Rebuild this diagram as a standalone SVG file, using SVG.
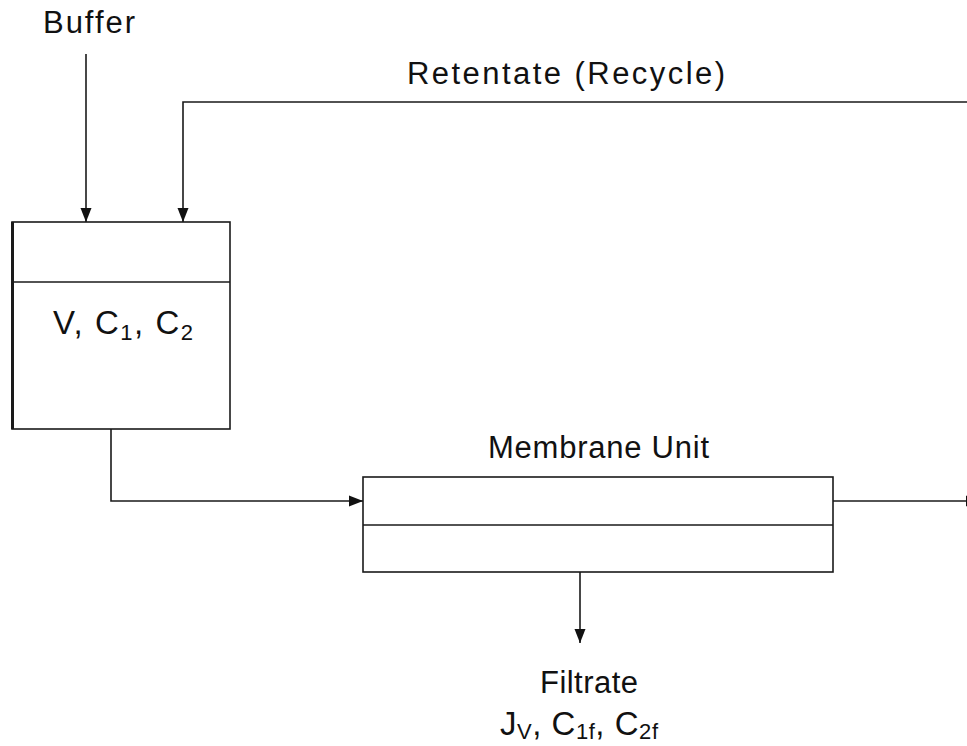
<svg xmlns="http://www.w3.org/2000/svg" width="967" height="746" viewBox="0 0 967 746">
  <style>
    .box { fill: #ffffff; stroke: #1a1a1a; stroke-width: 1.6; }
    .div { fill: none; stroke: #1a1a1a; stroke-width: 1.6; }
    .flow { fill: none; stroke: #1a1a1a; stroke-width: 1.6; marker-end: url(#arrow); }
    .lbl { font-family: "Liberation Sans", Arial, sans-serif; font-size: 31px; fill: #111111; }
    .big { font-size: 33px; }
    .sub { font-size: 22px; }
  </style>
  <defs>
    <marker id="arrow" markerUnits="userSpaceOnUse" markerWidth="14" markerHeight="12" refX="14" refY="6" orient="auto">
      <path d="M0,0.5 L14,6 L0,11.5 Z" fill="#111111"/>
    </marker>
  </defs>

  <!-- connectors -->
  <g id="connectors">
    <path class="flow" d="M86,54 L86,222"/>
    <path class="flow" d="M990,102 L183,102 L183,222"/>
    <path class="flow" d="M111,429 L111,501 L363,501"/>
    <path class="flow" d="M833,501 L980,501"/>
    <path class="flow" d="M580,572 L580,643"/>
  </g>

  <!-- feed tank -->
  <g id="tank">
    <rect class="box" x="12" y="222" width="218" height="207"/>
    <line class="div" x1="12" y1="282" x2="230" y2="282"/>
    <line x1="12.5" y1="222" x2="12.5" y2="429" stroke="#1a1a1a" stroke-width="3"/>
    <text class="lbl big" x="53" y="334" textLength="140" lengthAdjust="spacing">V, C<tspan class="sub" dy="6">1</tspan><tspan dy="-6">, C</tspan><tspan class="sub" dy="6">2</tspan></text>
  </g>

  <!-- membrane module -->
  <g id="membrane">
    <rect class="box" x="363" y="477" width="470" height="95"/>
    <line class="div" x1="363" y1="525" x2="833" y2="525"/>
    <text class="lbl" x="488" y="458" textLength="221" lengthAdjust="spacing">Membrane Unit</text>
  </g>

  <!-- stream labels -->
  <g id="buffer">
    <text class="lbl" x="43" y="33" textLength="92" lengthAdjust="spacing">Buffer</text>
  </g>
  <g id="retentate">
    <text class="lbl" x="407" y="84" textLength="318" lengthAdjust="spacing">Retentate (Recycle)</text>
  </g>
  <g id="filtrate">
    <text class="lbl" x="540" y="693" textLength="98" lengthAdjust="spacing">Filtrate</text>
    <text class="lbl big" x="500" y="735" textLength="158" lengthAdjust="spacing">J<tspan class="sub" dy="4">V</tspan><tspan dy="-4">, C</tspan><tspan class="sub" dy="4">1f</tspan><tspan dy="-4">, C</tspan><tspan class="sub" dy="4">2f</tspan></text>
  </g>
</svg>
